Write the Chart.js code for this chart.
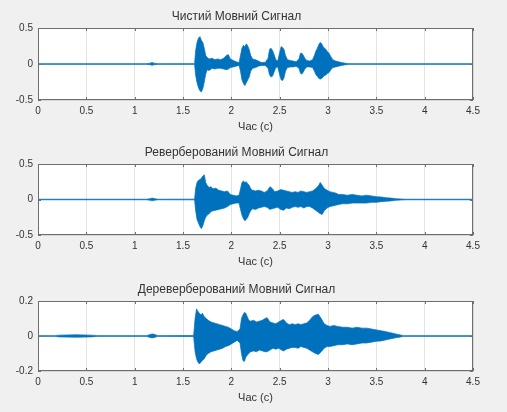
<!DOCTYPE html>
<html><head><meta charset="utf-8">
<script src="https://cdn.jsdelivr.net/npm/chart.js@4.4.1/dist/chart.umd.min.js"></script>
<style>
html,body{margin:0;padding:0;background:#f0f0f0;width:507px;height:412px;overflow:hidden}
canvas{position:absolute;left:0}
</style></head><body>
<canvas id="c1" width="507" height="137" style="top:0px"></canvas>
<canvas id="c2" width="507" height="136" style="top:136px"></canvas>
<canvas id="c3" width="507" height="135" style="top:273px"></canvas>
<script>
const titles = ['Чистий Мовний Сигнал', 'Реверберований Мовний Сигнал', 'Дереверберований Мовний Сигнал'];
const xLabel = 'Час (с)';
const xRange = [0, 4.5];
const xStep = 0.5;
const yLimits = [0.5, 0.5, 0.2];

// Clean signal envelope (time s, upper, lower)
const t1 = [0,1.12,1.16,1.18,1.20,1.24,1.62,1.63,1.645,1.66,
 1.675,1.69,1.705,1.72,1.735,1.75,1.77,1.80,1.83,1.86,
 1.89,1.92,1.95,1.97,1.99,2.02,2.05,2.08,2.095,2.11,
 2.125,2.14,2.155,2.17,2.185,2.20,2.22,2.25,2.28,2.31,
 2.35,2.38,2.395,2.41,2.425,2.44,2.46,2.48,2.50,2.515,
 2.53,2.545,2.56,2.58,2.61,2.64,2.67,2.70,2.715,2.73,
 2.745,2.76,2.78,2.81,2.84,2.86,2.875,2.89,2.905,2.92,
 2.935,2.95,2.965,2.98,2.995,3.01,3.03,3.05,3.08,3.11,
 3.14,3.18,3.22,4.5];
const up1 = [.004,.004,.012,.02,.012,.004,.005,.18,.30,.36,
 .38,.33,.30,.22,.12,.09,.07,.08,.06,.07,
 .06,.08,.12,.13,.07,.05,.03,.02,.12,.22,
 .26,.24,.28,.25,.20,.12,.07,.06,.04,.02,
 .02,.08,.20,.22,.19,.14,.06,.04,.16,.24,
 .23,.20,.12,.06,.05,.04,.03,.07,.15,.15,
 .12,.08,.05,.04,.06,.12,.18,.22,.27,.30,
 .28,.24,.22,.20,.17,.15,.10,.06,.04,.03,
 .02,.01,.004,.004];
const lo1 = [-.004,-.004,-.01,-.018,-.01,-.004,-.005,-.15,-.26,-.33,
 -.37,-.39,-.34,-.25,-.14,-.08,-.09,-.06,-.07,-.06,
 -.06,-.07,-.08,-.07,-.05,-.04,-.03,-.02,-.10,-.22,
 -.27,-.30,-.26,-.22,-.18,-.10,-.06,-.05,-.03,-.02,
 -.02,-.06,-.15,-.18,-.17,-.12,-.05,-.04,-.15,-.22,
 -.23,-.19,-.10,-.05,-.04,-.04,-.03,-.06,-.13,-.14,
 -.11,-.07,-.04,-.04,-.05,-.10,-.15,-.17,-.20,-.21,
 -.20,-.18,-.16,-.15,-.13,-.12,-.08,-.05,-.04,-.03,
 -.02,-.01,-.004,-.004];

// Reverberated signal envelope
const t2 = [0,1.12,1.16,1.18,1.20,1.24,1.62,1.63,1.645,1.66,
 1.675,1.69,1.705,1.72,1.735,1.75,1.77,1.79,1.81,1.84,
 1.87,1.90,1.93,1.96,1.99,2.02,2.05,2.08,2.095,2.11,
 2.125,2.14,2.155,2.17,2.185,2.20,2.22,2.25,2.28,2.31,
 2.34,2.37,2.40,2.42,2.45,2.48,2.51,2.54,2.57,2.60,
 2.63,2.66,2.69,2.72,2.75,2.78,2.81,2.84,2.87,2.90,
 2.92,2.94,2.96,2.99,3.02,3.05,3.08,3.11,3.15,3.20,
 3.25,3.30,3.35,3.40,3.45,3.50,3.55,3.60,3.65,3.70,
 3.75,3.80,4.5];
const up2 = [.004,.004,.012,.02,.014,.004,.005,.15,.24,.27,
 .28,.30,.33,.35,.24,.20,.17,.18,.15,.16,
 .13,.12,.11,.12,.07,.06,.05,.06,.15,.24,
 .26,.24,.25,.22,.20,.15,.13,.12,.13,.12,
 .10,.12,.18,.16,.11,.12,.14,.13,.12,.11,
 .10,.11,.10,.12,.11,.10,.11,.12,.15,.19,
 .24,.20,.16,.13,.11,.10,.09,.07,.07,.06,
 .07,.06,.05,.06,.05,.04,.035,.025,.02,.012,
 .008,.004,.004];
const lo2 = [-.004,-.004,-.01,-.018,-.012,-.004,-.005,-.15,-.28,-.33,
 -.38,-.41,-.37,-.30,-.25,-.22,-.20,-.17,-.16,-.15,
 -.14,-.13,-.12,-.10,-.07,-.06,-.05,-.05,-.14,-.22,
 -.27,-.30,-.28,-.25,-.20,-.16,-.13,-.14,-.12,-.11,
 -.10,-.11,-.14,-.13,-.12,-.11,-.14,-.15,-.12,-.13,
 -.11,-.10,-.11,-.10,-.12,-.10,-.10,-.12,-.15,-.18,
 -.20,-.21,-.16,-.12,-.10,-.09,-.08,-.07,-.06,-.06,
 -.05,-.05,-.05,-.05,-.04,-.04,-.03,-.025,-.02,-.012,
 -.008,-.004,-.004];

// Dereverberated signal envelope
const t3 = [0,0.18,0.22,0.40,0.55,0.62,1.12,1.16,1.18,1.20,
 1.24,1.61,1.625,1.64,1.655,1.67,1.685,1.70,1.72,1.74,
 1.76,1.79,1.82,1.85,1.88,1.91,1.94,1.97,2.00,2.03,
 2.06,2.09,2.105,2.12,2.135,2.15,2.165,2.18,2.20,2.23,
 2.26,2.29,2.32,2.35,2.37,2.40,2.43,2.46,2.49,2.52,
 2.54,2.57,2.60,2.63,2.66,2.69,2.72,2.75,2.78,2.81,
 2.84,2.87,2.90,2.93,2.96,2.99,3.02,3.06,3.10,3.15,
 3.20,3.25,3.30,3.35,3.40,3.45,3.50,3.55,3.60,3.65,
 3.70,3.75,3.78,4.5];
const up3 = [.002,.002,.005,.007,.005,.002,.002,.008,.012,.01,
 .002,.003,.10,.155,.14,.13,.12,.13,.11,.10,
 .09,.08,.075,.07,.065,.06,.055,.05,.04,.03,
 .025,.04,.10,.12,.135,.13,.11,.09,.085,.09,
 .08,.085,.09,.10,.105,.08,.075,.07,.08,.09,
 .095,.075,.065,.07,.065,.07,.065,.07,.075,.09,
 .11,.12,.125,.10,.07,.06,.055,.06,.055,.05,
 .05,.045,.05,.045,.045,.04,.035,.03,.025,.018,
 .012,.006,.002,.002];
const lo3 = [-.002,-.002,-.005,-.007,-.005,-.002,-.002,-.008,-.011,-.009,
 -.002,-.003,-.09,-.13,-.15,-.16,-.15,-.14,-.13,-.11,
 -.10,-.09,-.085,-.08,-.075,-.07,-.06,-.055,-.045,-.035,
 -.025,-.04,-.10,-.14,-.145,-.12,-.11,-.10,-.09,-.085,
 -.09,-.08,-.085,-.09,-.09,-.08,-.07,-.075,-.07,-.08,
 -.085,-.075,-.07,-.065,-.065,-.07,-.06,-.065,-.07,-.08,
 -.09,-.10,-.105,-.09,-.07,-.06,-.06,-.055,-.05,-.05,
 -.045,-.05,-.045,-.04,-.04,-.035,-.03,-.028,-.022,-.016,
 -.01,-.006,-.002,-.002];

const BLUE = '#0072BD';
const FONT = '"Liberation Sans", Arial, Helvetica, sans-serif';
const TEXT = '#333333';
const AXIS = '#6e6e6e';
const GRID = 'rgba(38,38,38,0.13)';

const boxPlugin = {
  id: 'matlabBox',
  beforeDraw(chart) {
    const a = chart.chartArea, ctx = chart.ctx;
    ctx.save(); ctx.fillStyle = '#ffffff';
    ctx.fillRect(a.left, a.top, a.right - a.left, a.bottom - a.top);
    ctx.restore();
  },
  afterDraw(chart) {
    const a = chart.chartArea, ctx = chart.ctx;
    const xs = chart.scales.x, ys = chart.scales.y;
    ctx.save();
    ctx.strokeStyle = AXIS; ctx.lineWidth = 1;
    ctx.strokeRect(Math.round(a.left) + 0.5, Math.round(a.top) + 0.5,
      Math.round(a.right - a.left) - 1, Math.round(a.bottom - a.top) - 1);
    ctx.beginPath();
    xs.ticks.forEach(tk => {
      const px = Math.round(xs.getPixelForValue(tk.value)) + 0.5;
      ctx.moveTo(px, a.top); ctx.lineTo(px, a.top + 3);
      ctx.moveTo(px, a.bottom); ctx.lineTo(px, a.bottom - 3);
    });
    ys.ticks.forEach(tk => {
      const py = Math.round(ys.getPixelForValue(tk.value)) + 0.5;
      ctx.moveTo(a.left, py); ctx.lineTo(a.left + 3, py);
      ctx.moveTo(a.right, py); ctx.lineTo(a.right - 3, py);
    });
    ctx.stroke();
    ctx.restore();
  }
};

function fmt(v) { return String(Math.round(v * 100) / 100); }

function makeChart(id, title, t, up, lo, ymax) {
  if (t.length !== up.length || t.length !== lo.length) console.error('length mismatch', id, t.length, up.length, lo.length);
  const upper = t.map((x, i) => ({x: x, y: up[i]}));
  const lower = t.map((x, i) => ({x: x, y: lo[i]}));
  return new Chart(document.getElementById(id), {
    type: 'line',
    data: {datasets: [
      {data: upper, borderColor: BLUE, backgroundColor: BLUE, borderWidth: 0.7, pointRadius: 0, fill: '+1', tension: 0},
      {data: lower, borderColor: BLUE, backgroundColor: BLUE, borderWidth: 0.7, pointRadius: 0, fill: false, tension: 0}
    ]},
    options: {
      responsive: false, animation: false, events: [],
      layout: {padding: {left: 0, right: 34, top: 0, bottom: 0}},
      plugins: {
        legend: {display: false}, tooltip: {enabled: false},
        title: {display: true, text: title, color: TEXT, font: {family: FONT, size: 12, weight: 'normal'}, padding: {top: 9.3, bottom: 4.3}}
      },
      scales: {
        x: {
          type: 'linear', min: xRange[0], max: xRange[1],
          ticks: {stepSize: xStep, padding: 5, color: TEXT, font: {family: FONT, size: 10}, maxRotation: 0, autoSkip: false, callback: v => fmt(v)},
          grid: {color: GRID, drawTicks: false}, border: {display: false},
          title: {display: true, text: xLabel, color: TEXT, font: {family: FONT, size: 11}, padding: {top: 0, bottom: 3.5}},
          afterFit: s => { s.height = 37; }
        },
        y: {
          min: -ymax, max: ymax,
          ticks: {stepSize: ymax, padding: 5, color: TEXT, font: {family: FONT, size: 10}, callback: v => fmt(v)},
          grid: {color: GRID, drawTicks: false}, border: {display: false},
          afterFit: s => { s.width = 38; }
        }
      }
    },
    plugins: [boxPlugin]
  });
}

makeChart('c1', titles[0], t1, up1, lo1, yLimits[0]);
makeChart('c2', titles[1], t2, up2, lo2, yLimits[1]);
makeChart('c3', titles[2], t3, up3, lo3, yLimits[2]);
</script>
</body></html>
